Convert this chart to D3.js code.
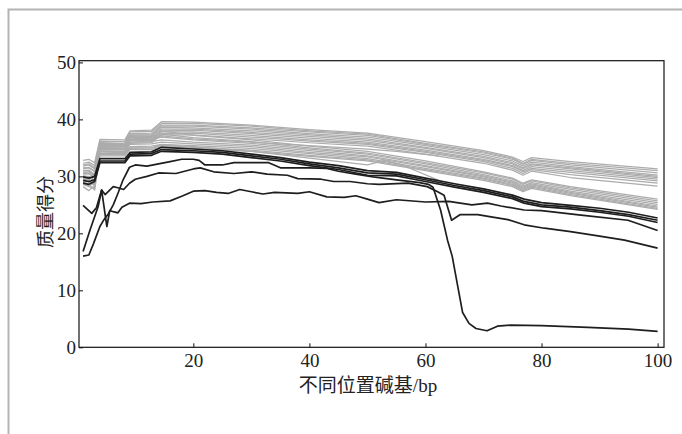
<!DOCTYPE html>
<html>
<head>
<meta charset="utf-8">
<script src="https://cdn.jsdelivr.net/npm/d3@7"></script>
<style>
  html, body { margin: 0; padding: 0; background: #fff; }
  svg { display: block; }
  .tick text { font-family: "Liberation Serif", "Times New Roman", serif; font-size: 19px; fill: #222; }
</style>
</head>
<body>
<svg id="chart" width="682" height="434"></svg>
<script>
// ── Data ────────────────────────────────────────────────────────────────
const xTicks = [20, 40, 60, 80, 100];
const yTicks = [0, 10, 20, 30, 40, 50];

// shared positions for the grey (good sample) curves
const grayX = [1, 2, 3, 3.9, 8.2, 9.1, 12.8, 14.5, 20, 30, 40, 50, 60, 70, 75, 76.8, 78.3, 85, 100];

const grayUpper = [
  [32.8,33.0,32.4,36.5,36.4,38.0,38.1,39.6,39.5,39.0,38.2,37.6,36.1,34.5,33.4,32.6,33.3,32.6,31.3],
  [32.3,32.5,31.9,36.2,36.1,37.8,37.9,39.3,39.3,38.8,38.0,37.4,35.8,34.3,33.2,32.3,33.0,32.3,31.0],
  [31.8,32.0,31.3,35.9,35.8,37.5,37.6,39.0,39.0,38.5,37.8,37.2,35.6,34.1,33.0,32.1,32.8,32.0,30.6],
  [31.3,31.5,30.8,35.6,35.6,37.2,37.3,38.8,38.8,38.3,37.5,36.9,35.4,33.8,32.7,31.8,32.5,31.7,30.2],
  [30.9,31.0,30.2,35.4,35.4,37.0,37.1,38.6,38.5,38.0,37.3,36.6,35.1,33.5,32.4,31.5,32.2,31.5,30.0],
  [30.4,30.5,29.8,35.1,35.2,36.8,36.8,38.3,38.3,37.7,37.0,36.3,34.9,33.3,32.2,31.3,32.0,31.3,29.8],
  [30.0,30.0,29.3,34.9,34.9,36.5,36.6,38.0,38.1,37.5,36.7,36.0,34.6,33.0,31.9,31.0,31.7,31.0,29.5],
  [29.6,29.5,28.8,34.6,34.7,36.3,36.3,37.8,37.8,37.2,36.4,35.8,34.4,32.8,31.7,30.8,31.4,30.7,29.2],
  [29.2,29.0,28.4,34.4,34.4,36.0,36.1,37.5,37.6,36.9,36.2,35.6,34.2,32.6,31.4,30.5,31.2,30.3,28.8],
  [28.6,28.2,27.9,34.1,34.2,35.8,35.9,37.3,37.3,36.6,35.9,35.3,33.9,32.3,31.1,30.2,30.9,29.8,28.3]
];

const grayLower = [
  [32.0,32.2,31.5,35.8,35.7,37.3,37.3,38.0,37.2,36.4,35.3,34.4,32.7,30.8,29.7,28.8,29.4,28.2,26.0],
  [31.5,31.6,30.9,35.4,35.4,36.9,37.0,37.4,36.8,36.1,35.0,34.1,32.4,30.6,29.5,28.6,29.2,28.0,25.7],
  [31.0,31.1,30.3,35.0,35.0,36.4,36.5,36.9,36.4,35.8,34.8,33.9,32.2,30.3,29.2,28.3,28.9,27.7,25.4],
  [30.5,30.5,29.7,34.7,34.7,36.0,36.1,36.4,36.0,35.5,34.5,33.6,31.9,30.1,29.0,28.1,28.7,27.4,25.1],
  [30.1,29.9,29.1,34.4,34.4,35.6,35.7,36.0,35.7,35.2,34.2,33.4,31.7,29.9,28.8,27.9,28.5,27.2,24.8],
  [29.6,29.3,28.5,34.1,34.1,35.2,35.3,35.6,35.4,34.9,34.0,33.1,31.4,29.7,28.6,27.7,28.3,27.0,24.6],
  [28.8,28.3,28.9,33.8,33.8,34.9,35.0,35.4,35.1,34.6,33.7,32.9,31.2,29.5,28.4,27.5,28.1,26.8,24.4],
  [28.2,27.5,28.4,33.6,33.6,34.7,34.7,35.2,34.9,34.4,33.5,32.7,31.0,29.3,28.2,27.3,27.9,26.6,24.2]
];

// two grey samples that stop near position 62
const shortX1 = [1, 2, 3, 3.9, 8.2, 9.1, 12.8, 14.5, 20, 30, 40, 50, 55, 62.3];
const shortY1 = [30.6,30.8,30.0,35.2,35.2,36.6,36.7,37.1,36.6,36.0,35.4,34.8,34.4,33.6];
const shortX2 = [1, 2, 3, 3.9, 8.2, 9.1, 12.8, 14.5, 20, 30, 40, 50, 53, 56, 62.3];
const shortY2 = [29.0,28.6,27.6,34.0,34.0,35.0,35.0,35.5,35.2,34.4,33.2,32.0,32.8,32.0,29.3];

// dark (poor sample) curves
const blackX = [1,2,3,3.9,8.2,9.1,12.8,14.5,20,25,30,35,40,45,50,55,60,65,70,75,77,80,85,90,95,100];
const blackGroup = [
  [29.9,29.7,30.0,33.1,33.1,34.2,34.3,35.1,34.8,34.5,33.9,33.3,32.5,31.9,31.0,30.7,29.7,28.7,27.8,26.7,26.0,25.4,24.9,24.4,23.7,22.7],
  [29.3,29.1,29.4,32.7,32.7,33.9,34.0,34.7,34.5,34.2,33.6,33.0,32.2,31.5,30.6,30.4,29.4,28.4,27.5,26.4,25.6,25.0,24.6,24.0,23.3,22.3],
  [28.8,28.6,29.1,32.4,32.4,33.6,33.7,34.4,34.2,33.9,33.3,32.7,31.9,31.2,30.2,30.1,29.1,28.1,27.2,26.1,25.3,24.7,24.3,23.7,23.0,21.9]
];

const dropX = [1,2,2.8,3.9,4.6,5.4,6.2,7,7.9,9,10,12,14,16,18,20,21,22,25,27,30,33,35,40,43,45,48,51,55,59,60.5,61.3,62.6,63.8,64.6,66.4,67.5,68.7,70.6,72.4,74.7,80,88,95,100];
const dropY = [16.0,16.2,18.2,21.2,22.4,23.5,25.0,27.0,29.4,31.6,32.0,31.8,32.2,32.6,33.0,33.0,32.8,32.0,32.0,32.4,32.4,32.4,31.5,31.5,31.4,30.9,30.4,29.9,29.4,28.9,28.6,28.1,24.1,18.8,16.0,6.1,4.2,3.3,2.9,3.7,3.9,3.8,3.5,3.2,2.8];

const dipX = [1,2.5,3.3,4.2,4.8,6.2,7,8,9,10,12,14,17,20,21.2,23.5,27,30,32.7,36.2,38,42,44.2,47,50,52,57,60.3,62.1,63.2,64.5,66,69,71.3,74.2,77,80.5,85,90,94.3,100];
const dipY = [24.9,23.5,24.5,27.6,26.8,28.2,28.0,27.7,28.8,29.5,30.0,30.6,30.5,31.3,31.5,30.8,30.5,30.8,30.4,30.2,29.6,29.5,29.1,29.1,28.7,28.6,28.8,28.2,27.3,26.7,22.3,23.3,23.3,22.9,22.4,21.5,20.9,20.3,19.5,18.8,17.4];

const lowX = [1,2.2,3.6,4.2,5.1,5.6,6.2,7,7.7,9,11,13,16,18,20,22,24,26,28,30,32,34,38,40,43,46,48,50,52,55,60,64,68,70.7,73,77,80,86.8,94.9,100];
const lowY = [16.8,20.6,24.7,27.6,21.2,24.0,23.8,23.6,24.6,25.3,25.2,25.5,25.7,26.5,27.4,27.5,27.2,27.0,27.7,27.3,26.9,27.2,27.0,27.3,26.4,26.3,26.6,26.0,25.4,25.9,25.5,25.6,25.0,25.3,24.8,24.1,24.0,23.2,22.3,20.5];

// ── Layout ──────────────────────────────────────────────────────────────
const svg = d3.select('#chart');
const x = d3.scaleLinear().domain([0.3, 101.1]).range([79, 664]);
const y = d3.scaleLinear().domain([0, 50.3]).range([347.3, 60.7]);

// page frame (light grey, top and left)
svg.append('path')
  .attr('d', 'M8.5,434V9.5H682')
  .attr('fill', 'none').attr('stroke', '#b4b4b4').attr('stroke-width', 2);

const line = d3.line().x(d => x(d[0])).y(d => y(d[1]));
const zip = (xs, ys) => xs.map((v, i) => [v, ys[i]]);

const curves = svg.append('g').attr('fill', 'none').attr('stroke-linejoin', 'round');

// grey curves first
const greySeries = [...grayUpper, ...grayLower].map(ys => zip(grayX, ys))
  .concat([zip(shortX1, shortY1), zip(shortX2, shortY2)]);
curves.selectAll('path.grey').data(greySeries).join('path')
  .attr('class', 'grey')
  .attr('d', line)
  .attr('stroke', '#acacac')
  .attr('stroke-width', 1.25);

// dark curves on top
const darkSeries = blackGroup.map(ys => zip(blackX, ys))
  .concat([zip(dropX, dropY), zip(dipX, dipY), zip(lowX, lowY)]);
curves.selectAll('path.dark').data(darkSeries).join('path')
  .attr('class', 'dark')
  .attr('d', line)
  .attr('stroke', '#1e1e1e')
  .attr('stroke-width', 1.7);

// ── Axes ────────────────────────────────────────────────────────────────
const xAxis = svg.append('g').attr('transform', `translate(0,${y.range()[0]})`)
  .call(d3.axisBottom(x).tickValues(xTicks).tickSizeInner(-4).tickSizeOuter(0).tickPadding(6));
const yAxis = svg.append('g').attr('transform', `translate(${x.range()[0]},0)`)
  .call(d3.axisLeft(y).tickValues(yTicks).tickSizeInner(-4).tickSizeOuter(0).tickPadding(3));
[xAxis, yAxis].forEach(a => {
  a.select('.domain').remove();
  a.selectAll('.tick line').attr('stroke', '#111').attr('stroke-width', 1);
});

// plot box
svg.append('rect')
  .attr('x', x.range()[0]).attr('y', y.range()[1])
  .attr('width', x.range()[1] - x.range()[0])
  .attr('height', y.range()[0] - y.range()[1])
  .attr('fill', 'none').attr('stroke', '#111').attr('stroke-width', 1.2);

// titles
svg.append('text')
  .attr('x', 368).attr('y', 392)
  .attr('text-anchor', 'middle')
  .style('font-family', '"Liberation Serif", "Noto Sans CJK SC", serif')
  .style('font-size', '19px').style('fill', '#222')
  .text('不同位置碱基/bp');

svg.append('text')
  .attr('transform', 'translate(52,212) rotate(-90)')
  .attr('text-anchor', 'middle')
  .style('font-family', '"Noto Sans CJK SC", sans-serif')
  .style('font-size', '18px').style('fill', '#222')
  .text('质量得分');
</script>
</body>
</html>
